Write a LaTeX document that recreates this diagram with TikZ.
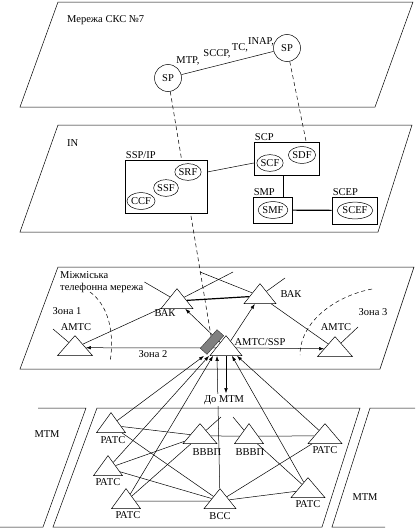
\documentclass[tikz,border=0pt]{standalone}
\usepackage{fontspec}
\setmainfont{Liberation Serif}
\usetikzlibrary{arrows.meta,calc,backgrounds,shapes.geometric}
\definecolor{bandgray}{HTML}{808080}
\tikzset{
  plane/.style={draw, line width=0.5pt},
  stationtri/.style={
    draw,
    fill=white,
    line width=0.5pt,
    isosceles triangle,
    shape border rotate=90,
    isosceles triangle stretches,
    inner sep=0pt,
    minimum width=32pt,
    minimum height=20pt,
    anchor=apex
  },
  fnellipse/.style={draw, fill=white, ellipse, inner xsep=0pt, inner ysep=2.4pt, line width=0.5pt},
  platbox/.style={draw, fill=white, line width=0.5pt, inner sep=0pt},
  spnode/.style={draw, fill=white, circle, minimum size=27pt, inner sep=0pt, line width=0.5pt},
  lbl/.style={inner sep=1pt},
  link/.style={line width=0.5pt},
  trunk/.style={line width=1.2pt},
  arr/.style={-{Latex[length=5pt,width=3.5pt]}, line width=0.5pt},
  ss7link/.style={line width=0.5pt, dash pattern=on 4pt off 3pt}
}

\begin{document}
\begin{tikzpicture}[x=1pt, y=-1pt, font=\fontsize{10.5}{12}\selectfont]
\useasboundingbox (0,0) rectangle (415,530);

% SS7 network
\node[lbl, anchor=west] (ss7lbl) at (66,20) {Мережа СКС №7};
\node[spnode] (sp1) at (168,78) {SP};
\node[spnode] (sp2) at (287,48) {SP};
\node[lbl] (mtp) at (188,61) {MTP,};
\node[lbl] (sccp) at (217,54) {SCCP,};
\node[lbl] (tc) at (240,48) {TC,};
\node[lbl] (inap) at (261,42) {INAP,};

% IN
\node[lbl, anchor=west] (inlbl) at (66,143) {IN};
\node[platbox, minimum width=82pt, minimum height=53pt] (sspip) at (166,186.5) {};
\node[lbl, anchor=south west] (sspiplbl) at (sspip.north west) {SSP/IP};
\node[fnellipse] (srf) at (188,172) {SRF};
\node[fnellipse] (ssf) at (166,188) {SSF};
\node[fnellipse] (ccf) at (141,201) {CCF};
\node[platbox, minimum width=65pt, minimum height=33pt] (scp) at (286.5,158.5) {};
\node[lbl, anchor=south west] (scplbl) at (scp.north west) {SCP};
\node[fnellipse] (scf) at (270,163) {SCF};
\node[fnellipse] (sdf) at (302,155) {SDF};
\node[platbox, line width=0.9pt, minimum width=39pt, minimum height=26pt] (smp) at (272.5,210) {};
\node[lbl, anchor=south west] (smplbl) at (smp.north west) {SMP};
\node[fnellipse] (smf) at (273,210) {SMF};
\node[platbox, line width=0.9pt, minimum width=45pt, minimum height=27pt] (scep) at (354.5,210.5) {};
\node[lbl, anchor=south west] (sceplbl) at (scep.north west) {SCEP};
\node[fnellipse] (scef) at (355,210.5) {SCEF};

% long-distance network
\node[lbl, anchor=west, align=left] (mtlbl) at (59,282) {Міжміська\\телефонна мережа};
\node[stationtri] (bak1) at (177,288) {};
\node[stationtri] (bak2) at (260,283) {};
\node[stationtri, minimum width=35pt] (amtcl) at (75,335) {};
\node[stationtri, minimum width=35pt] (amtcr) at (335,336) {};
\node[stationtri] (amtcssp) at (226,335) {};
\node[draw=black!80, fill=bandgray, minimum width=9pt, minimum height=25pt, inner sep=0pt, rotate=-42] (band) at (212,342) {};
\node[lbl] (bak1lbl) at (165,313) {ВАК};
\node[lbl] (bak2lbl) at (291,294) {ВАК};
\node[lbl] (amtcllbl) at (76,327) {АМТС};
\node[lbl] (amtcrlbl) at (336,327) {АМТС};
\node[lbl] (ssplbl) at (260,342) {АМТС/SSP};
\node[lbl] (zone1) at (67,311) {Зона 1};
\node[lbl] (zone2) at (153,354) {Зона 2};
\node[lbl] (zone3) at (373,312) {Зона 3};
\node[lbl, fill=white] (domtm) at (224,400) {До МТМ};
\coordinate (xa) at (233,272);
\coordinate (xb) at (200,272);
\coordinate (bak2out) at (285,278);
\coordinate (amtclout) at (53,329);
\coordinate (amtcrout) at (358,327);

% local network
\node[lbl] (mtml) at (47,434) {МТМ};
\node[lbl] (mtmr) at (365,497) {МТМ};
\node[stationtri, minimum width=29pt] (r1) at (111,412) {};
\node[stationtri, minimum width=29pt] (r2) at (108,455) {};
\node[stationtri, minimum width=29pt] (r3) at (126,488) {};
\node[stationtri, minimum width=34pt] (b1) at (200,423) {};
\node[stationtri, minimum width=29pt] (b2) at (249,423) {};
\node[stationtri] (bcc) at (220,488) {};
\node[stationtri, minimum width=34pt] (rtr) at (325,423) {};
\node[stationtri, minimum width=34pt] (rrb) at (308,477) {};
\node[lbl] (r1lbl) at (113,440) {РАТС};
\node[lbl] (r2lbl) at (108,482) {РАТС};
\node[lbl] (r3lbl) at (128,515) {РАТС};
\node[lbl] (b1lbl) at (207,452) {ВВВП};
\node[lbl] (b2lbl) at (250,452) {ВВВП};
\node[lbl] (bcclbl) at (220,516) {ВСС};
\node[lbl] (rtrlbl) at (325,450) {РАТС};
\node[lbl] (rrblbl) at (308,504) {РАТС};
\coordinate (b1out) at (221,417);
\coordinate (b2in) at (233,417);

\begin{scope}[on background layer]
% planes
\draw[plane] (58,2) -- (413,2) -- (375,107) -- (20,107) -- cycle;
\draw[plane] (58,125) -- (412,125) -- (378,232) -- (20,232) -- cycle;
\draw[plane] (58,267) -- (414,267) -- (380,369) -- (20,369) -- cycle;
\draw[plane] (38,408) -- (86,408) -- (43,527) -- (0,527);
\draw[plane] (97,408) -- (360,408) -- (322,527) -- (53,527) -- cycle;
\draw[plane] (415,408) -- (370,408) -- (332,527) -- (385,527);

% signalling
\draw[link] (sp1) -- (sp2);
\draw[ss7link] (sp1) -- (band);
\draw[ss7link] (sp2) -- ($(scp.north east)!0.2!(scp.north west)$);
\draw[link] (sspip.east |- srf) -- (scp.west |- scf);
\draw[link] (scp.south -| scf.east) -- (smp.north -| scf.east);
\draw[trunk] (smp) -- (scep);

% long-distance links
\draw[link] (mtlbl.east) -- (bak1);
\draw[trunk] (bak1) -- (bak2);
\draw[link] (bak1) -- (xa);
\draw[link] (xb) -- (bak2);
\draw[link] (bak2) -- (bak2out);
\draw[link] (amtclout) -- (amtcl);
\draw[link] (amtcr) -- (amtcrout);
\draw[link] (amtcl) -- (bak1);
\draw[link] (bak2) -- (amtcr);
\draw[arr] (amtcssp) -- (bak1);
\draw[arr] (amtcssp) -- (bak2);
\draw[arr] (amtcssp.west) -- (amtcl.east);
\draw[arr] (amtcssp.east) -- (amtcr.west);
\draw[arr, shorten >=1pt] (amtcssp.lower side) -- (amtcssp.lower side |- domtm.north);
\draw[ss7link] (90,292) .. controls (108,305) and (115,332) .. (110,362);
\draw[ss7link] (372,289) .. controls (335,296) and (300,322) .. (300,355);

% local links
\draw[link] (r1) -- (b1);
\draw[link] (r1) -- (bcc);
\draw[link] (r2) -- (b1);
\draw[link] (r2) -- (bcc);
\draw[link] (r3) -- (b1);
\draw[link] (r3) -- (bcc);
\draw[link] (b1) -- (b2);
\draw[link] (b2) -- (rtr);
\draw[link] (b2) -- (rrb);
\draw[link] (bcc) -- (rtr);
\draw[link] (bcc) -- (rrb);
\draw[link] (b1) -- (b1out);
\draw[link] (b2in) -- (b2);
\draw[arr] (r1) -- ([xshift=-22pt]amtcssp.lower side);
\draw[arr] (r2) -- ([xshift=-17pt]amtcssp.lower side);
\draw[arr] (r3) -- ([xshift=-13pt]amtcssp.lower side);
\draw[arr] (bcc) -- ([xshift=-9pt]amtcssp.lower side);
\draw[arr] (rrb) -- ([xshift=6pt]amtcssp.lower side);
\draw[arr] (rtr) -- ([xshift=11pt]amtcssp.lower side);
\end{scope}
\end{tikzpicture}
\end{document}
